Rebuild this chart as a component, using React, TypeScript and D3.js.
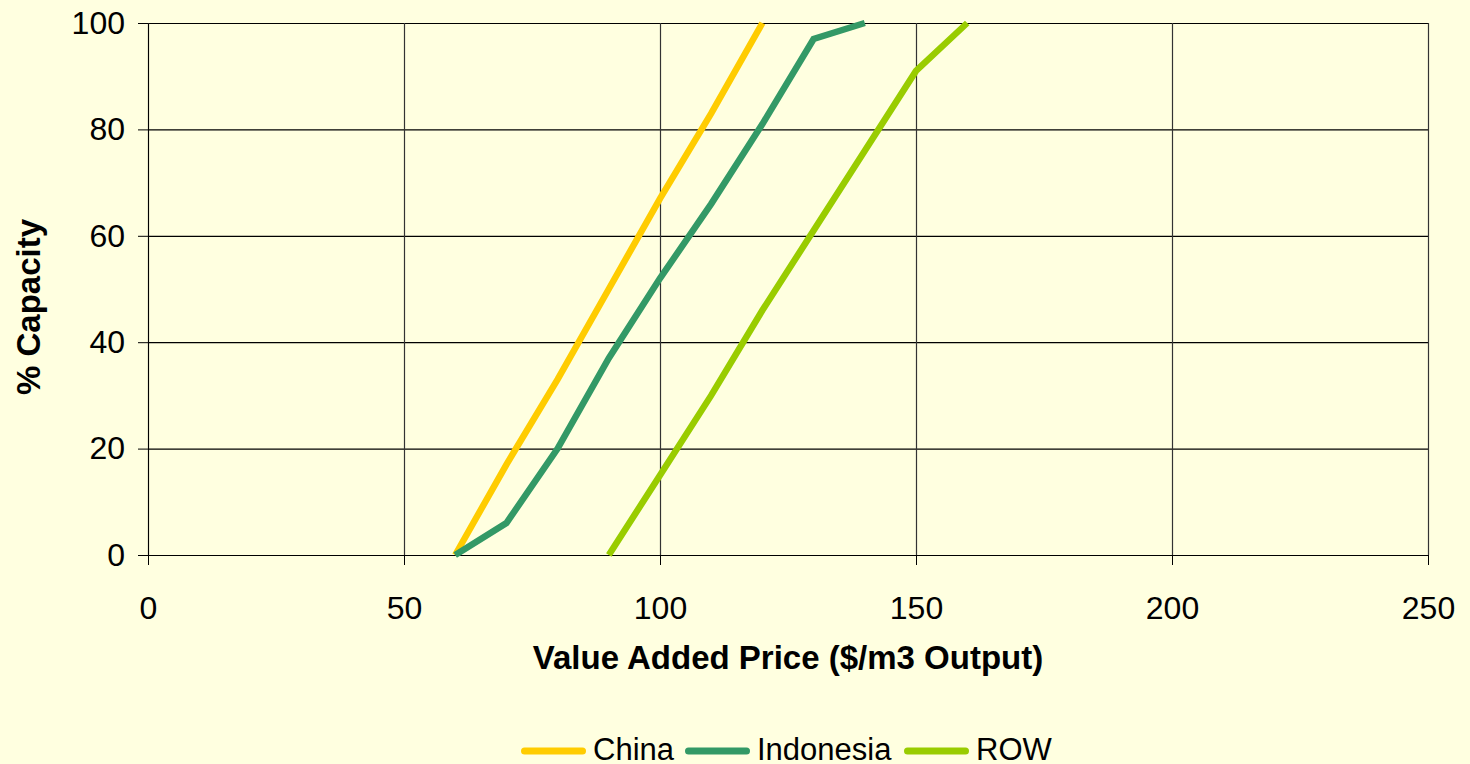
import * as d3 from 'd3';
import { useEffect, useRef } from 'react';

const BG = '#FFFFE0';
const FONT = '"Liberation Sans", Arial, sans-serif';

const xTicks = [0, 50, 100, 150, 200, 250];
const yTicks = [0, 20, 40, 60, 80, 100];

const chinaPrice = [60, 70, 80, 90, 100, 110, 120];
const chinaCap = [0, 17, 33, 50, 67, 83, 100];

const indonesiaPrice = [60, 70, 80, 90, 100, 110, 120, 130, 140];
const indonesiaCap = [0, 6, 20, 37, 52, 66, 81, 97, 100];

const rowPrice = [90, 100, 110, 120, 130, 140, 150, 160];
const rowCap = [0, 15, 30, 46, 61, 76, 91, 100];

const seriesNames = ['China', 'Indonesia', 'ROW'];
const seriesColors = ['#FFCC00', '#339966', '#99CC00'];

export default function App() {
    const ref = useRef<any>();

    useEffect(() => {
        const width = 1470;
        const height = 764;
        const margin = { top: 23, right: 42, bottom: 209, left: 148 };
        const boundedWidth = width - margin.left - margin.right;
        const boundedHeight = height - margin.top - margin.bottom;

        const svg = d3.select<any, any>(ref.current);
        svg.selectAll('*').remove();
        svg.attr('width', width).attr('height', height);

        svg.append('rect').attr('width', width).attr('height', height).attr('fill', BG);

        const stage = svg.append('g').attr('transform', `translate(${margin.left}, ${margin.top})`);

        const xScale = d3.scaleLinear().domain([0, 250]).range([0, boundedWidth]);
        const yScale = d3.scaleLinear().domain([0, 100]).range([boundedHeight, 0]);

        // grid
        stage.append('g').selectAll('line').data(yTicks).join('line')
            .attr('x1', 0).attr('x2', boundedWidth)
            .attr('y1', (d: any) => yScale(d) + 0.5).attr('y2', (d: any) => yScale(d) + 0.5)
            .attr('stroke', '#000').attr('stroke-width', 1.2);
        stage.append('g').selectAll('line').data(xTicks).join('line')
            .attr('y1', 0).attr('y2', boundedHeight)
            .attr('x1', (d: any) => xScale(d) + 0.5).attr('x2', (d: any) => xScale(d) + 0.5)
            .attr('stroke', '#333').attr('stroke-width', 1.2);

        // axes
        const xAxis = d3.axisBottom(xScale).tickValues(xTicks).tickSize(10).tickSizeOuter(0).tickPadding(31).tickFormat(d3.format('d'));
        const x = stage.append('g').attr('transform', `translate(0, ${boundedHeight})`).call(xAxis);
        const yAxis = d3.axisLeft(yScale).tickValues(yTicks).tickSize(10).tickSizeOuter(0).tickPadding(13).tickFormat(d3.format('d'));
        const y = stage.append('g').call(yAxis);
        [x, y].forEach((a: any) => {
            a.select('.domain').attr('stroke', '#000');
            a.selectAll('.tick line').attr('stroke', '#000');
            a.selectAll('text')
                .attr('font-family', FONT)
                .attr('font-size', 32)
                .attr('fill', '#000');
        });

        // lines
        const datasets = [
            chinaPrice.map((p, i) => [p, chinaCap[i]]),
            indonesiaPrice.map((p, i) => [p, indonesiaCap[i]]),
            rowPrice.map((p, i) => [p, rowCap[i]]),
        ];
        const line = d3.line<any>().x((d: any) => xScale(d[0])).y((d: any) => yScale(d[1]));
        stage.append('g').selectAll('path').data(datasets).join('path')
            .attr('d', (d: any) => line(d))
            .attr('fill', 'none')
            .attr('stroke', (_d: any, i: number) => seriesColors[i])
            .attr('stroke-width', 6.5);

        // axis titles
        svg.append('text')
            .attr('x', margin.left + boundedWidth / 2).attr('y', 669)
            .attr('text-anchor', 'middle')
            .attr('font-family', FONT)
            .attr('font-weight', 'bold').attr('font-size', 33)
            .text('Value Added Price ($/m3 Output)');
        svg.append('text')
            .attr('transform', `translate(40, 307) rotate(-90)`)
            .attr('text-anchor', 'middle')
            .attr('font-family', FONT)
            .attr('font-weight', 'bold').attr('font-size', 33)
            .text('% Capacity');

        // legend
        const legendX = [521, 685, 904];
        const legend = svg.append('g').selectAll('g').data(seriesNames).join('g')
            .attr('transform', (_d: any, i: number) => `translate(${legendX[i]}, 751)`);
        legend.append('line')
            .attr('x1', 3.5).attr('x2', 61.5).attr('y1', 0).attr('y2', 0)
            .attr('stroke', (_d: any, i: number) => seriesColors[i])
            .attr('stroke-width', 7).attr('stroke-linecap', 'round');
        legend.append('text')
            .attr('x', 72).attr('y', 9)
            .attr('font-family', FONT)
            .attr('font-size', 31)
            .text((d: any) => d);
    });

    return (
        <div style={{ position: 'fixed', left: 0, top: 0 }}>
            <svg ref={ref} style={{ display: 'block' }}></svg>
        </div>
    );
}
